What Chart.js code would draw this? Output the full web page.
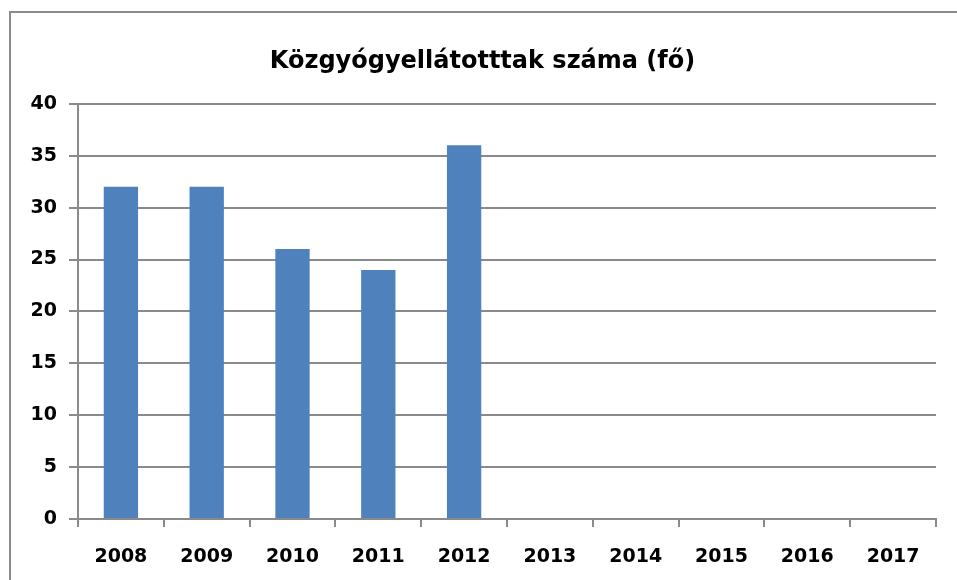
<!DOCTYPE html>
<html>
<head>
<meta charset="utf-8">
<script src="https://cdn.jsdelivr.net/npm/chart.js@4"></script>
<style>
  html, body { margin: 0; padding: 0; background: #fff; overflow: hidden; }
  #keret { position: absolute; left: 9px; top: 11px; width: 2000px; height: 2000px; border: 2px solid #8c8c8c; }
  #wrap { position: absolute; left: 0; top: 0; width: 957px; height: 580px; }
</style>
</head>
<body>
<div id="keret"></div>
<div id="wrap"><canvas id="grafikon" width="957" height="580"></canvas></div>
<script>
const evek = ["2008", "2009", "2010", "2011", "2012", "2013", "2014", "2015", "2016", "2017"];
const letszam = [32, 32, 26, 24, 36, null, null, null, null, null];
const yMin = 0;
const yMax = 40;
const yLepes = 5;

const betu = "'DejaVu Sans', Verdana, sans-serif";
const racsSzin = "#8a8a8a";

new Chart(document.getElementById("grafikon"), {
  type: "bar",
  data: {
    labels: evek,
    datasets: [{
      label: "Közgyógyellátotttak száma (fő)",
      data: letszam,
      backgroundColor: "#4f81bd",
      borderWidth: 0,
      barPercentage: 0.4,
      categoryPercentage: 1
    }]
  },
  options: {
    responsive: false,
    animation: false,
    // bal padding a cím középre igazítása miatt
    layout: { padding: { left: 29, right: 21, top: 0, bottom: 0 } },
    plugins: {
      legend: { display: false },
      tooltip: { enabled: false },
      title: {
        display: true,
        text: "Közgyógyellátotttak száma (fő)",
        color: "#000",
        font: { family: betu, size: 24, weight: "bold" },
        padding: { top: 47, bottom: 28 }
      }
    },
    scales: {
      x: {
        grid: {
          drawOnChartArea: false,
          tickLength: 8,
          color: racsSzin,
          lineWidth: 2
        },
        border: { color: racsSzin, width: 2 },
        ticks: {
          color: "#000",
          font: { family: betu, size: 19, weight: "bold" },
          padding: 19,
          maxRotation: 0
        },
        afterFit: (s) => { s.height = 61; }
      },
      y: {
        min: yMin,
        max: yMax,
        grid: {
          tickLength: 9,
          color: racsSzin,
          lineWidth: 2
        },
        border: { color: racsSzin, width: 2 },
        ticks: {
          stepSize: yLepes,
          color: "#000",
          font: { family: betu, size: 19, weight: "bold" },
          padding: 12
        },
        afterFit: (s) => { s.width = 49; }
      }
    }
  }
});
</script>
</body>
</html>
